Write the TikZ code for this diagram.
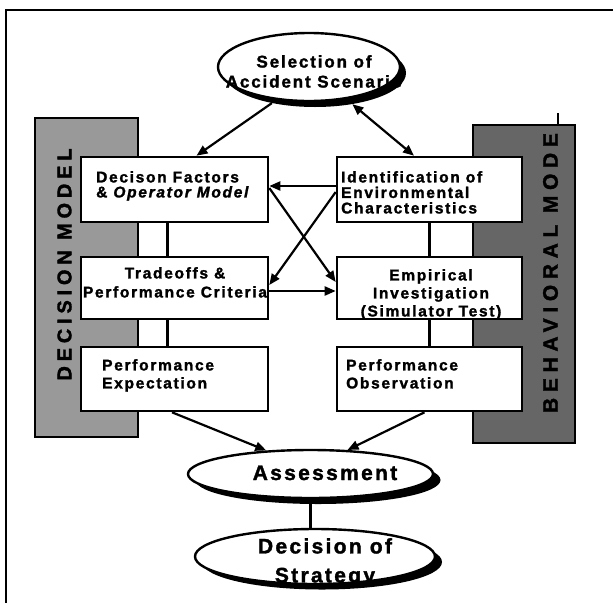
\documentclass[tikz,border=0pt]{standalone}
\usepackage{fontspec}
\usetikzlibrary{arrows.meta,shapes.geometric}
\newfontfamily\boxfont[LetterSpace=11,FakeBold=1.6]{Liberation Sans}
\newfontfamily\sidefont[LetterSpace=24,FakeBold=1.6]{Liberation Sans}
\newfontfamily\sidefontb[LetterSpace=27,FakeBold=1.6]{Liberation Sans}

\begin{document}
\begin{tikzpicture}[x=1pt,y=-1pt,
  >={Triangle[length=11pt,width=9pt]},
  panel/.style={draw=black, line width=2.6pt, fill=white, inner sep=0pt},
  oval/.style={ellipse, draw=black, line width=2.4pt, fill=white, inner sep=0pt},
  ovalshadow/.style={ellipse, fill=black, inner sep=0pt},
  band/.style={draw=black, line width=1.8pt},
  txt/.style={inner sep=0pt},
  boxtxt/.style={txt, font=\boxfont\bfseries\fontsize{15.5}{#1}\selectfont},
  sidelabel/.style={rotate=90, inner sep=0pt},
  arr/.style={line width=2.2pt, ->},
  link/.style={line width=2.2pt}]

\useasboundingbox (0,0) rectangle (613,603);

% outer frame
\draw[line width=1.4pt] (6,603) -- (6,10) -- (613,10);

% shaded side bands
\filldraw[band, fill=black!40] (35,118) rectangle (138,437);
\filldraw[band, fill=black!60] (473,125) rectangle (575,443);
\draw[line width=1.8pt] (558,125) -- (558,113);

\node[sidelabel, font=\sidefont\bfseries\fontsize{20}{20}\selectfont] (dm) at (64.5,264.5) {DECISION MODEL};
\node[sidelabel, font=\sidefontb\bfseries\fontsize{21}{21}\selectfont] (bm) at (550.5,273) {BEHAVIORAL MODE};

% ellipses with drop shadows
\node[ovalshadow, minimum width=182pt, minimum height=68pt] (selsh) at (315,73) {};
\node[oval, minimum width=182pt, minimum height=68pt] (sel) at (309,67) {};
\node[txt, anchor=north, align=center, font=\boxfont\bfseries\fontsize{17}{20}\selectfont] (selt) at (314,55) {Selection of\\Accident Scenario};

\node[ovalshadow, minimum width=245pt, minimum height=48pt] (assh) at (318,480) {};
\node[oval, minimum width=245pt, minimum height=48pt] (as) at (310.5,474) {};
\node[txt, anchor=base, font=\boxfont\bfseries\fontsize{21}{21}\selectfont] (ast) at (325,480) {Assessment};

\node[ovalshadow, minimum width=240pt, minimum height=55pt] (dssh) at (322,562) {};
\node[oval, minimum width=240pt, minimum height=55pt] (ds) at (315,556.5) {};
\node[txt, anchor=north, align=center, font=\boxfont\bfseries\fontsize{21}{29}\selectfont] (dst) at (325,538) {Decision of\\Strategy};

% boxes
\node[panel, minimum width=187pt, minimum height=65pt] (df) at (174.5,189.5) {};
\node[panel, minimum width=185pt, minimum height=65pt] (ie) at (429.5,189.5) {};
\node[panel, minimum width=187pt, minimum height=62pt] (tr) at (174.5,288) {};
\node[panel, minimum width=185pt, minimum height=62pt] (em) at (429.5,288) {};
\node[panel, minimum width=187pt, minimum height=64pt] (pe) at (174.5,379) {};
\node[panel, minimum width=185pt, minimum height=64pt] (po) at (429.5,379) {};

\node[boxtxt=15, anchor=north west, align=left] (dft) at (96,171) {Decison Factors\\\& \textit{Operator Model}};
\node[boxtxt=15.5, anchor=north west, align=left] (iet) at (341,171) {Identification of\\Environmental\\Characteristics};
\node[boxtxt=19, anchor=north, align=center] (trt) at (175,267) {Tradeoffs \&\\Performance Criteria};
\node[boxtxt=18, anchor=north, align=center] (emt) at (431,269) {Empirical\\Investigation\\(Simulator Test)};
\node[boxtxt=18, anchor=north west, align=left] (pet) at (102,359) {Performance\\Expectation};
\node[boxtxt=18, anchor=north west, align=left] (pot) at (346,359) {Performance\\Observation};

% vertical links
\draw[link] ([xshift=-7pt]df.south) -- ([xshift=-7pt]tr.north);
\draw[link] ([xshift=-7pt]tr.south) -- ([xshift=-7pt]pe.north);
\draw[link] (ie.south) -- (em.north);
\draw[link] (em.south) -- (po.north);

% arrows
\draw[arr] (selsh) -- ([xshift=22pt]df.north);
\draw[line width=2.2pt, <->] (selsh) -- ([xshift=-15.5pt]ie.north);
\draw[arr] (ie.west |- 0,186) -- (df.east |- 0,186);
\draw[arr] (df.east |- 0,188) -- (em.west |- 0,282);
\draw[arr] (ie.west |- 0,192) -- (tr.east |- 0,285);
\draw[arr] (tr.east |- 0,291) -- (em.west |- 0,291);
\draw[arr] ([xshift=-2.5pt]pe.south) -- (as.152);
\draw[arr] ([xshift=-5pt]po.south) -- (as.33);
\draw[link] (as.south) -- (as.south |- ds.north);
\end{tikzpicture}
\end{document}
